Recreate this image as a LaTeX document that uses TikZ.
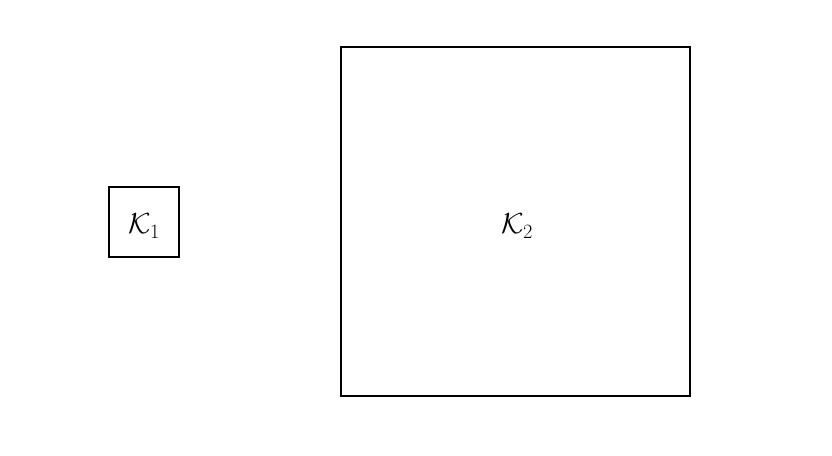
\documentclass[tikz,border=0pt]{standalone}
\usepackage{fix-cm}
\usepackage{amsmath}

\begin{document}
\begin{tikzpicture}[x=1pt,y=-1pt]

    % --- Frame (reference size) ---
    \useasboundingbox (0,0) rectangle (832,455);

    \tikzset{setbox/.style={draw, line width=2pt, inner sep=0pt},
             setlabel/.style={font=\fontsize{29}{32}\selectfont}}

    % --- Small set ---
    \node[setbox, minimum size=70pt] (kone) at (143.5,222) {};
    \node[setlabel] (konelabel) at (144,226) {$\mathcal{K}_1$};

    % --- Large set ---
    \node[setbox, minimum size=349pt] (ktwo) at (515.5,221) {};
    \node[setlabel] (ktwolabel) at (517,226) {$\mathcal{K}_2$};

\end{tikzpicture}
\end{document}
